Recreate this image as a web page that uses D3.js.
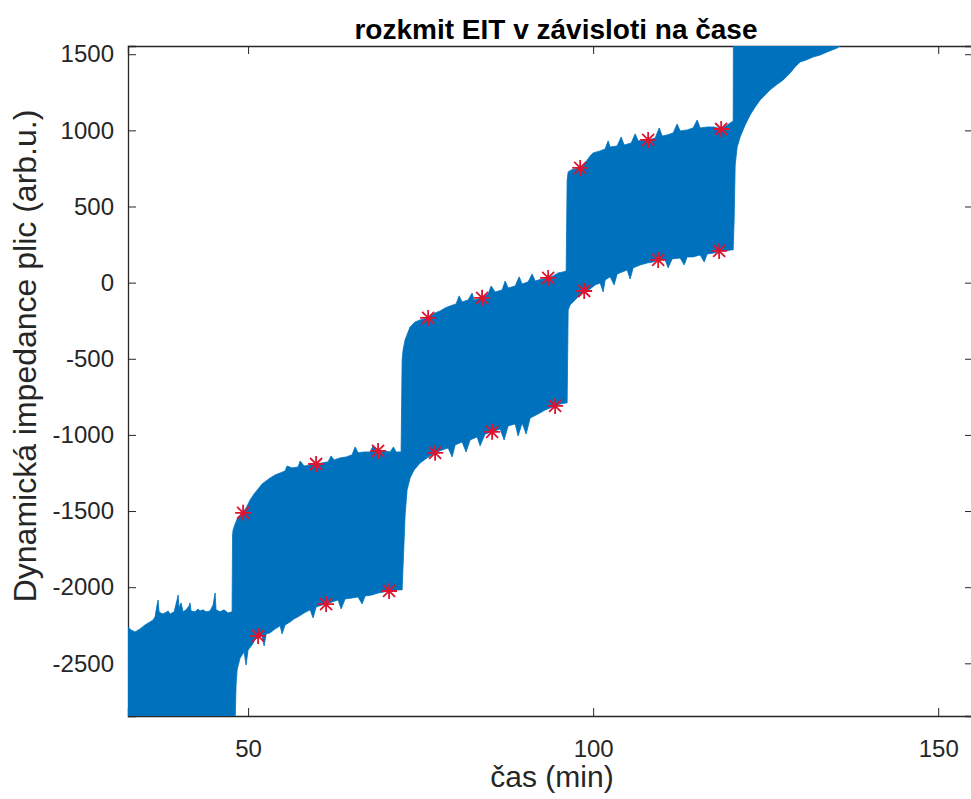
<!DOCTYPE html>
<html>
<head>
<meta charset="utf-8">
<script src="https://cdn.jsdelivr.net/npm/d3@7"></script>
<style>
  body { margin: 0; background: #fff; }
  svg { display: block; }
</style>
</head>
<body>
<div id="graf"></div>
<script>
// popisky os
const casTicks = [50, 100, 150];
const impedanceTicks = [-2500, -2000, -1500, -1000, -500, 0, 500, 1000, 1500];

// horni obalka signalu [cas (min), impedance]
const horniObalka = [
  [32.61,-2261],[33.04,-2281],[33.62,-2294],[34.35,-2274],[35.07,-2248],[35.80,-2228],[36.23,-2215],
  [36.52,-2195],[36.81,-2117],[36.96,-2084],[37.10,-2162],[37.54,-2176],[37.97,-2169],[38.41,-2156],
  [38.70,-2176],[39.28,-2162],[39.71,-2084],[39.86,-2051],[40.00,-2136],[40.29,-2103],[40.58,-2162],
  [41.02,-2149],[41.45,-2123],[41.59,-2103],[41.74,-2156],[42.32,-2162],[42.75,-2143],[43.04,-2156],
  [43.48,-2149],[43.91,-2162],[44.49,-2156],[44.93,-2117],[45.22,-2038],[45.36,-2149],[45.94,-2162],
  [46.52,-2149],[47.10,-2169],[47.68,-2162],
  [47.75,-1657],[47.83,-1624],[48.12,-1585],[48.55,-1539],[48.99,-1519],[49.28,-1506],[49.71,-1480],
  [50.29,-1427],[50.87,-1388],[51.45,-1355],[52.03,-1322],[52.61,-1302],[53.19,-1283],[53.91,-1263],
  [54.64,-1250],[55.36,-1237],[55.65,-1204],[56.38,-1217],[57.25,-1210],[57.54,-1171],[58.12,-1204],
  [58.99,-1197],[59.86,-1191],[60.72,-1184],[61.59,-1177],[62.03,-1138],[62.46,-1164],[63.33,-1151],
  [64.20,-1145],[65.07,-1131],[65.51,-1079],[65.94,-1118],[66.81,-1112],[67.68,-1112],[68.12,-1072],
  [68.84,-1099],[69.71,-1105],[70.58,-1112],[71.07,-1079],[71.45,-1112],[72.17,-1112],
  [72.32,-508],[72.46,-442],[72.75,-376],[73.19,-324],[73.48,-291],[74.20,-258],[74.93,-245],
  [76.09,-232],[77.10,-199],[77.83,-186],[78.55,-166],[79.28,-153],[80.14,-140],[80.58,-87],
  [81.01,-127],[81.88,-114],[82.46,-68],[82.75,-114],[83.91,-100],[84.78,-74],[85.22,-22],
  [85.80,-61],[86.81,-48],[87.25,11],[87.68,-35],[88.70,-22],[89.28,38],[89.71,-9],[90.58,5],
  [91.16,57],[91.59,11],[92.61,24],[93.48,31],[94.20,44],[94.93,64],[95.65,70],[96.09,77],
  [96.23,674],[96.38,727],[96.81,740],[97.39,747],[98.12,753],[98.84,786],[99.57,832],[100.00,852],
  [101.01,865],[101.74,878],[102.17,931],[102.46,891],[103.48,898],[104.06,957],[104.49,904],
  [105.51,917],[106.09,977],[106.52,931],[107.39,937],[107.97,937],[108.99,950],[109.57,1016],
  [110.00,963],[110.72,970],[111.59,983],[112.17,1042],[112.61,996],[113.62,1003],[114.49,1016],
  [115.07,1068],[115.51,1016],[116.52,1022],[117.54,1022],[118.55,1009],[119.28,1029],[119.86,1049],
  [120.29,1062],
  [120.36,2200],[136.23,2200]
];

// dolni obalka signalu [cas (min), impedance]
const dolniObalka = [
  [32.61,-3400],[47.97,-3400],[48.12,-2880],[48.26,-2642],[48.41,-2543],[48.84,-2465],[49.42,-2425],
  [49.71,-2511],[50.00,-2412],[50.58,-2379],[51.01,-2346],[51.45,-2327],[52.03,-2320],[52.32,-2386],
  [52.61,-2307],[53.19,-2300],[53.91,-2274],[54.64,-2254],[54.93,-2307],[55.36,-2248],[56.09,-2228],
  [56.67,-2208],[57.25,-2195],[58.12,-2169],[58.99,-2149],[59.42,-2202],[59.86,-2130],[60.72,-2117],
  [61.30,-2110],[62.17,-2097],[63.04,-2084],[63.48,-2143],[64.06,-2077],[65.07,-2071],[65.94,-2064],
  [66.52,-2110],[66.96,-2058],[67.97,-2051],[68.84,-2038],[69.71,-2031],[70.43,-2025],[71.30,-2018],
  [72.32,-2018],
  [72.61,-1690],[72.75,-1526],[73.04,-1361],[73.48,-1282],[74.06,-1230],[74.93,-1184],[75.94,-1151],
  [77.10,-1118],[78.12,-1099],[78.99,-1086],[79.57,-1145],[80.00,-1066],[81.01,-1046],[81.59,-1112],
  [82.17,-1033],[83.19,-1013],[83.62,-1072],[84.35,-994],[85.36,-981],[86.52,-961],[87.10,-1033],
  [87.68,-941],[88.70,-928],[89.13,-1007],[89.71,-921],[90.29,-994],[90.87,-889],[92.03,-862],
  [93.04,-836],[93.77,-823],[94.49,-810],[95.22,-797],[96.09,-790],[96.23,-790],
  [96.38,-179],[96.67,-146],[97.10,-127],[97.68,-100],[98.26,-74],[98.84,-61],[99.57,-41],
  [100.29,-15],[101.01,-2],[101.45,-61],[101.74,18],[102.46,38],[103.04,-15],[103.48,57],
  [104.20,70],[104.93,83],[105.36,24],[105.80,97],[106.81,116],[107.83,129],[108.70,136],
  [109.42,149],[110.43,149],[110.87,97],[111.45,156],[112.61,162],[113.19,116],[113.62,169],
  [114.49,169],[115.51,182],[116.09,136],[116.52,188],[117.54,195],[118.26,208],[119.13,208],
  [120.00,215],[120.29,215],
  [120.43,412],[120.58,773],[120.87,891],[121.30,957],[122.03,1036],[122.75,1101],[123.48,1154],
  [124.20,1200],[124.93,1233],[125.65,1266],[126.52,1298],[127.54,1331],[128.55,1377],[129.28,1417],
  [130.00,1449],[130.87,1462],[131.88,1482],[132.90,1495],[133.91,1515],[134.64,1528],[135.36,1541],
  [135.80,1554],[136.23,1594]
];

// vyznacene extremy
const extremCas = [49.28, 51.45, 59.86, 61.30, 68.84, 70.43, 76.09, 77.10, 83.91,
                   85.36, 93.48, 94.49, 98.12, 98.70, 107.97, 109.42, 118.55, 118.26];
const extremHodnota = [-1512, -2320, -1191, -2111, -1105, -2025, -232, -1118, -100,
                       -980, 31, -810, 753, -55, 937, 149, 1009, 208];

const width = 971, height = 799;
const margin = { top: 46, right: -2, bottom: 83, left: 128 };
const font = "'Liberation Sans', Arial, Helvetica, sans-serif";
const axisColor = "#262626";

const svg = d3.select("#graf")
  .append("svg")
  .attr("width", width)
  .attr("height", height);

const x = d3.scaleLinear()
  .domain([32.6, 155.04])
  .range([margin.left, width - margin.right]);
const y = d3.scaleLinear()
  .domain([-2846, 1554])
  .range([height - margin.bottom, margin.top]);

const x0 = x.range()[0], x1 = x.range()[1];
const y0 = y.range()[1], y1 = y.range()[0];

svg.append("clipPath").attr("id", "clip")
  .append("rect")
  .attr("x", x0).attr("y", y0)
  .attr("width", x1 - x0).attr("height", y1 - y0);

// osy (ticky dovnitr)
const tickLen = 8;
const fmt = d => String(d);
const gx = svg.append("g").attr("transform", `translate(0,${y1})`)
  .call(d3.axisBottom(x).tickValues(casTicks).tickSize(-tickLen).tickPadding(tickLen + 16).tickFormat(fmt));
const gxTop = svg.append("g").attr("transform", `translate(0,${y0})`)
  .call(d3.axisTop(x).tickValues(casTicks).tickSize(-tickLen).tickFormat(""));
const gy = svg.append("g").attr("transform", `translate(${x0},0)`)
  .call(d3.axisLeft(y).tickValues(impedanceTicks).tickSize(-tickLen).tickPadding(tickLen + 6).tickFormat(fmt));
const gyRight = svg.append("g").attr("transform", `translate(${x1},0)`)
  .call(d3.axisRight(y).tickValues(impedanceTicks).tickSize(-tickLen).tickFormat(""));

[gx, gxTop, gy, gyRight].forEach(g => {
  g.selectAll("path.domain").attr("stroke", axisColor).attr("stroke-width", 1.3);
  g.selectAll(".tick line").attr("stroke", axisColor).attr("stroke-width", 1);
  g.selectAll(".tick text")
    .attr("fill", axisColor)
    .style("font-family", font)
    .style("font-size", "24px");
});

// signal jako pas mezi obalkami
const line = d3.line()
  .x(d => x(d[0]))
  .y(d => y(d[1]));

const pas = horniObalka.concat(dolniObalka.slice().reverse());
svg.append("g").attr("clip-path", "url(#clip)")
  .append("path")
  .attr("d", line(pas) + "Z")
  .attr("fill", "#0072BD")
  .attr("stroke", "#0072BD")
  .attr("stroke-width", 0.8);

// hvezdicky
const star = "M-8,0L8,0M0,-8L0,8M-6,-6L6,6M-6,6L6,-6";
svg.append("g").selectAll("path")
  .data(extremCas.map((c, i) => [c, extremHodnota[i]]))
  .enter()
  .append("path")
  .attr("transform", d => `translate(${x(d[0])},${y(d[1])})`)
  .attr("d", star)
  .attr("stroke", "#dd1430")
  .attr("stroke-width", 1.8)
  .attr("fill", "none");

// popisky
svg.append("text")
  .attr("x", 556)
  .attr("y", 39)
  .attr("text-anchor", "middle")
  .style("font-family", font)
  .style("font-weight", "bold")
  .style("font-size", "28px")
  .attr("fill", "#000")
  .text("rozkmit EIT v závisloti na čase");

svg.append("text")
  .attr("x", 552)
  .attr("y", 787)
  .attr("text-anchor", "middle")
  .style("font-family", font)
  .style("font-size", "30px")
  .attr("fill", axisColor)
  .text("čas (min)");

svg.append("text")
  .attr("transform", `translate(36,356) rotate(-90)`)
  .attr("text-anchor", "middle")
  .style("font-family", font)
  .style("font-size", "32px")
  .attr("fill", axisColor)
  .text("Dynamická impedance plic (arb.u.)");
</script>
</body>
</html>
